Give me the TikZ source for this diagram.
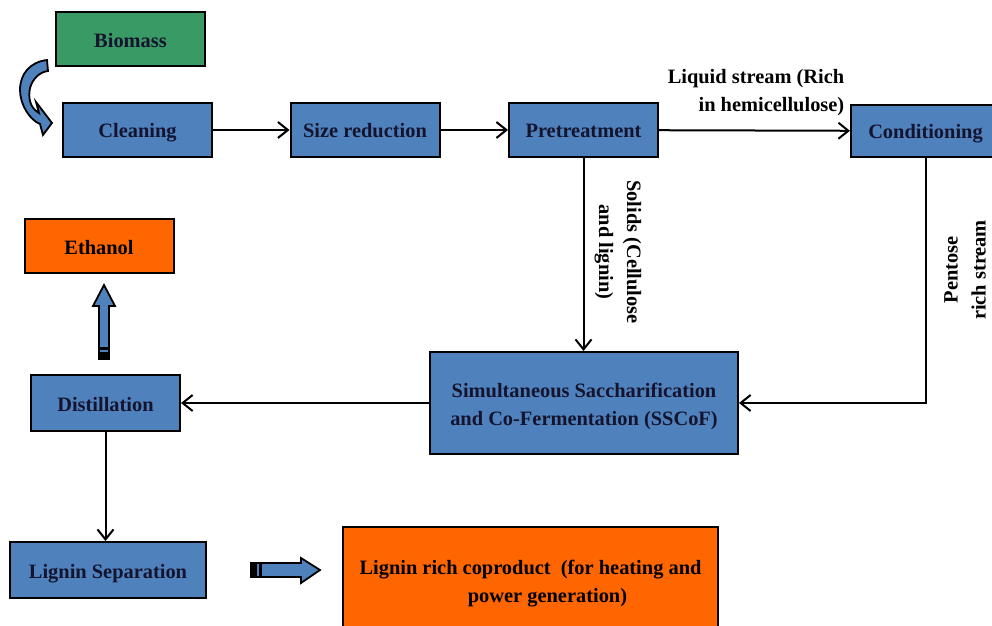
\documentclass[tikz,border=0pt]{standalone}
\usepackage{fontspec}
\setmainfont{Liberation Serif}
\usepackage{tikz}
\usetikzlibrary{arrows.meta}
\definecolor{boxblue}{HTML}{4F81BD}
\definecolor{boxgreen}{HTML}{3A9A65}
\definecolor{boxorange}{HTML}{FF6600}
\definecolor{navytext}{HTML}{14142E}
\newcommand{\topstrut}{\rule{0pt}{10.5pt}}

\begin{document}
\begin{tikzpicture}[x=0.5pt, y=-0.5pt,
    every node/.style={font=\fontsize{10.2}{14}\selectfont\bfseries},
    widebox/.style={draw=black, line width=1pt, fill=boxblue, text=navytext,
      minimum width=74.5pt, minimum height=27pt, inner sep=2pt},
    box/.style={widebox, text height=10pt, text depth=2pt},
    flow/.style={draw=black, line width=1pt, -{Straight Barb[length=5pt,width=8pt]}},
    blockarrow/.style={draw=black, line width=0.9pt, fill=boxblue, line join=miter}]
    \useasboundingbox (0,0) rectangle (992,626);

    \node[box, fill=boxgreen] (bio) at (130.5,39.5) {Biomass};
    \node[box] (clean) at (137.5,130) {Cleaning};
    \node[box] (size) at (365,130) {Size reduction};
    \node[box] (pre) at (583.5,130) {Pretreatment};
    \node[box, minimum height=26pt] (cond) at (925.5,131) {Conditioning};
    \node[box, fill=boxorange, text=black] (eth) at (99,246.5) {Ethanol};
    \node[box, minimum height=28pt] (dist) at (105.5,403) {Distillation};
    \node[widebox, minimum width=154pt, minimum height=51pt, align=center] (sscof) at (584,403)
      {\topstrut Simultaneous Saccharification\\and Co-Fermentation (SSCoF)};
    \node[box, minimum width=98pt, minimum height=28pt] (lsep) at (108,570) {Lignin Separation};
    \node[widebox, fill=boxorange, text=black, minimum width=187.5pt, minimum height=53pt,
      align=center] (coprod) at (530.5,580)
      {\topstrut Lignin rich coproduct~~(for heating and\\\hspace*{17pt}power generation)};

    % stream labels
    \node[align=right] (liq) at (756,89) {\topstrut Liquid stream (Rich\\in hemicellulose)};
    \node[align=center, rotate=-90] (sol) at (618,252) {Solids (Cellulose\\and lignin)};
    \node[align=center, rotate=90] (pent) at (965,270) {Pentose\\rich stream};

    \draw[flow] (clean) -- (size);
    \draw[flow] (size) -- (pre);
    \draw[flow] (pre) -- (cond);
    \draw[flow] (pre.south) -- (pre.south |- sscof.north);
    \draw[flow] (cond.south) |- (sscof.east);
    \draw[flow] (sscof) -- (dist);
    \draw[flow] (dist.south) -- (dist.south |- lsep.north);

    % curved arrow biomass -> cleaning
    \draw[blockarrow] (47,60) .. controls (30,62) and (20,74) .. (20,90)
      .. controls (20,105) and (30,120) .. (40,124) -- (43,135) -- (52,123) -- (36,102)
      -- (39,113) .. controls (30,108) and (28,98) .. (30,88)
      .. controls (33,78) and (40,72) .. (48,71) -- cycle;

    % up arrow to ethanol
    \draw[blockarrow] (99,359) -- (99,306) -- (93,306) -- (104,285) -- (115,306)
      -- (109,306) -- (109,359) -- cycle;
    \fill[black] (99,347) rectangle (109,359);
    \draw[boxblue, line width=0.6pt] (100,351) -- (108,351);

    % right arrow to coproduct
    \draw[blockarrow] (251,563) -- (301,563) -- (301,558) -- (320,570) -- (301,583)
      -- (301,577) -- (251,577) -- cycle;
    \fill[black] (251,563) rectangle (262,577);
    \draw[boxblue, line width=0.6pt] (258,564) -- (258,576);
\end{tikzpicture}
\end{document}
